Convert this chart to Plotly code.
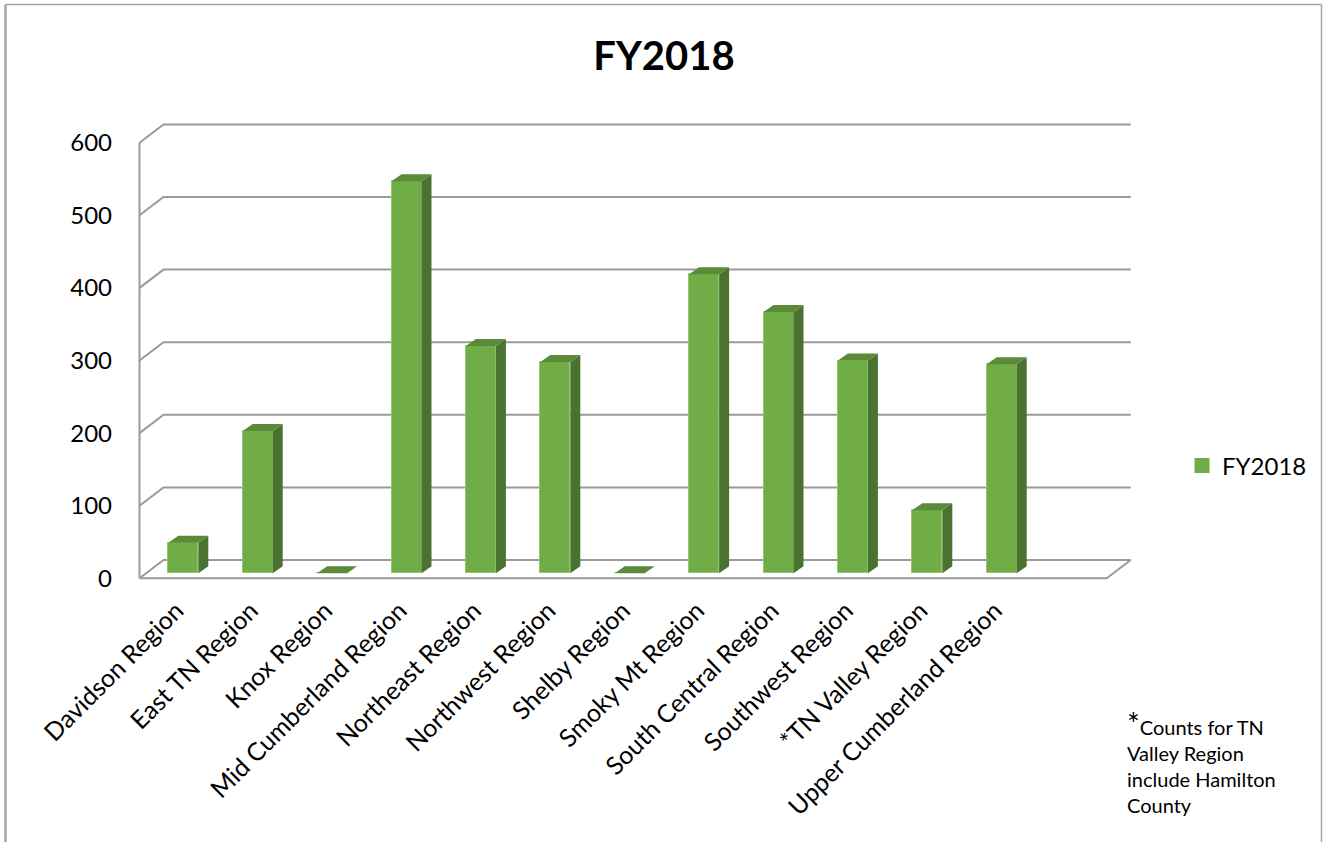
import plotly.graph_objects as go

# ---- data -------------------------------------------------------------
regions = [
    "Davidson Region", "East TN Region", "Knox Region", "Mid Cumberland Region",
    "Northeast Region", "Northwest Region", "Shelby Region", "Smoky Mt Region",
    "South Central Region", "Southwest Region", "*TN Valley Region",
    "Upper Cumberland Region",
]
fy2018 = [42, 196, 0, 540, 313, 291, 0, 412, 360, 293, 87, 288]
y_ticks = [0, 100, 200, 300, 400, 500, 600]

# ---- layout geometry ---------------------------------------------------
W, H = 1323, 842
ML, MR, MT, MB = 113, 183, 100, 252
PW, PH = W - ML - MR, H - MT - MB
PX_CAT = 74.4        # pixels per category step
PX_VAL = 0.726       # pixels per unit of value
CAT0_PX = 183.3      # pixel column of the first bar centre
VAL0_PX = 573.3      # pixel row of value 0 on the bar plane

x_range = [(ML - CAT0_PX) / PX_CAT, (W - MR - CAT0_PX) / PX_CAT]
y_range = [(VAL0_PX - (H - MB)) / PX_VAL, (VAL0_PX - MT) / PX_VAL]


def dpx(px_x, px_y):
    """pixel offset -> data offset (px_y positive = upwards)"""
    return px_x / PX_CAT, px_y / PX_VAL


def paper_x(px):
    return (px - ML) / PW


def paper_y(py):
    return ((H - MB) - py) / PH


# oblique depth of the chart box (front plane / back wall) and of each bar
FRONT = dpx(-6.6, -5.0)
BACK = dpx(17.4, 13.3)
BAR_DEPTH = dpx(10.0, 7.0)
BAR_W = 30.0 / PX_CAT

n_slots = len(regions) + 1
x_lo, x_hi = -0.5, n_slots - 0.5

GRID = "#9a9a9a"
FRAME = "#a6a6a6"
FRONT_COL = "#70AD47"
TOP_COL = "#5B8B38"
SIDE_COL = "#4A7230"

fig = go.Figure()

# gridlines: left wall diagonal + back wall line for every tick value
shapes = []
for v in y_ticks:
    x1, y1 = x_lo + FRONT[0], v + FRONT[1]
    x2, y2 = x_lo + BACK[0], v + BACK[1]
    x3, y3 = x_hi + BACK[0], v + BACK[1]
    shapes.append(dict(type="path", path=f"M{x1},{y1} L{x2},{y2} L{x3},{y3}",
                       xref="x", yref="y", line=dict(color=GRID, width=2),
                       layer="below"))
# floor front edge and right edge
shapes.append(dict(type="path",
                   path=(f"M{x_lo + FRONT[0]},{FRONT[1]} L{x_hi + FRONT[0]},{FRONT[1]} "
                         f"L{x_hi + BACK[0]},{BACK[1]}"),
                   xref="x", yref="y", line=dict(color=GRID, width=2), layer="below"))
# vertical value axis on the front plane
shapes.append(dict(type="line", xref="x", yref="y",
                   x0=x_lo + FRONT[0], x1=x_lo + FRONT[0],
                   y0=FRONT[1], y1=y_ticks[-1] + FRONT[1],
                   line=dict(color=GRID, width=2), layer="below"))

# chart frame (open at the bottom)
frame_top, frame_bot = paper_y(4.5), paper_y(H + 10)
shapes += [
    dict(type="line", xref="paper", yref="paper",
         x0=paper_x(5.5), x1=paper_x(5.5), y0=frame_top, y1=frame_bot,
         line=dict(color=FRAME, width=2.5)),
    dict(type="line", xref="paper", yref="paper",
         x0=paper_x(5.5), x1=paper_x(1321.5), y0=frame_top, y1=frame_top,
         line=dict(color=FRAME, width=1.5)),
    dict(type="line", xref="paper", yref="paper",
         x0=paper_x(1321.5), x1=paper_x(1321.5), y0=frame_top, y1=frame_bot,
         line=dict(color=FRAME, width=1.5)),
]

# front faces of the bars
xs = list(range(len(regions)))
fig.add_trace(go.Bar(
    x=xs, y=fy2018, width=BAR_W, name="FY2018", showlegend=False,
    marker=dict(color=FRONT_COL, line=dict(color="#94c474", width=1)),
    hoverinfo="skip",
))

# side and top faces built from the same values
sx, sy, tx, ty = [], [], [], []
ddx, ddy = BAR_DEPTH
for i, v in zip(xs, fy2018):
    xl, xr = i - BAR_W / 2, i + BAR_W / 2
    sx += [xr, xr + ddx, xr + ddx, xr, xr, None]
    sy += [0, ddy, v + ddy, v, 0, None]
    tx += [xl, xl + ddx, xr + ddx, xr, xl, None]
    ty += [v, v + ddy, v + ddy, v, v, None]

fig.add_trace(go.Scatter(x=sx, y=sy, mode="lines", fill="toself",
                         fillcolor=SIDE_COL, line=dict(width=0, color=SIDE_COL),
                         showlegend=False, hoverinfo="skip"))
fig.add_trace(go.Scatter(x=tx, y=ty, mode="lines", fill="toself",
                         fillcolor=TOP_COL, line=dict(width=0, color=TOP_COL),
                         showlegend=False, hoverinfo="skip"))

# legend entry
fig.add_trace(go.Scatter(x=[None], y=[None], mode="markers", name="FY2018",
                         marker=dict(symbol="square", size=15, color=FRONT_COL),
                         showlegend=True))

fig.update_layout(
    width=W, height=H, autosize=False,
    margin=dict(l=ML, r=MR, t=MT, b=MB, pad=0),
    paper_bgcolor="white", plot_bgcolor="white",
    font=dict(family="Lato, Arial, sans-serif", color="#000000", size=24),
    title=dict(text="<b>FY2018</b>", x=664 / W, xref="container", xanchor="center",
               y=1 - 56 / H, yref="container", yanchor="middle",
               font=dict(family="Lato, Arial, sans-serif", size=40, color="#000000")),
    xaxis=dict(range=x_range, tickvals=xs, ticktext=regions, tickangle=-45,
               showgrid=False, zeroline=False, showline=False, ticks="",
               ticklabelshift=-7,
               tickfont=dict(size=25), automargin=False, fixedrange=True),
    yaxis=dict(range=y_range, tickvals=[v + FRONT[1] for v in y_ticks],
               ticktext=[str(v) for v in y_ticks],
               showgrid=False, zeroline=False, showline=False, ticks="",
               tickfont=dict(size=24), automargin=False, fixedrange=True),
    legend=dict(x=1182 / W, xref="container", xanchor="left",
                y=1 - 466 / H, yref="container", yanchor="middle",
                font=dict(size=24), bgcolor="rgba(0,0,0,0)"),
    shapes=shapes,
    annotations=[dict(
        text=("<span style='font-size:30px'>*</span>Counts for TN<br>Valley Region"
              "<br>include Hamilton<br>County"),
        xref="paper", yref="paper",
        x=paper_x(1125), y=paper_y(703),
        xanchor="left", yanchor="top", align="left", showarrow=False,
        font=dict(size=20, color="#000000"),
    )],
    bargap=0,
)

fig.write_html("out.html")
